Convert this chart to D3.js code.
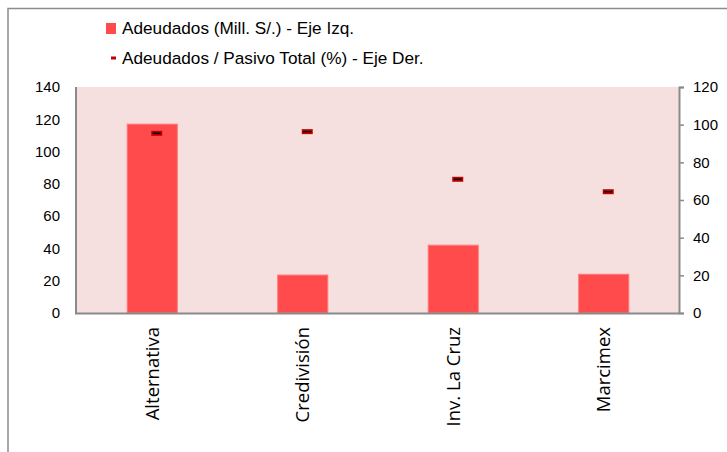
<!DOCTYPE html>
<html><head><meta charset="utf-8">
<script src="https://cdn.jsdelivr.net/npm/d3@7"></script>
<style>body{margin:0;background:#fff}svg{display:block}</style>
</head><body>
<script>
const categories = ["Alternativa", "Credivisión", "Inv. La Cruz", "Marcimex"];
const adeudados = [117, 23.5, 42, 24];
const ratioPasivo = [95.4, 96.3, 71, 64.4];
const leftTicks = [0, 20, 40, 60, 80, 100, 120, 140];
const rightTicks = [0, 20, 40, 60, 80, 100, 120];
const legendLabels = ["Adeudados (Mill. S/.) - Eje Izq.", "Adeudados / Pasivo Total (%) - Eje Der."];

const W = 727, H = 452;
const plot = {x0: 77, x1: 679, y0: 87, y1: 313};
const svg = d3.select("body").append("svg").attr("width", W).attr("height", H);

// outer frame
svg.append("rect").attr("x", 8).attr("y", 8.5).attr("width", 800).attr("height", 600)
  .attr("fill", "none").attr("stroke", "#8c8c8c").attr("stroke-width", 1.5);

const x = d3.scaleBand().domain(categories).range([plot.x0, plot.x1]).paddingInner(0.667).paddingOuter(0.3335);
const yL = d3.scaleLinear().domain([0, 140]).range([plot.y1, plot.y0]);
const yR = d3.scaleLinear().domain([0, 120]).range([plot.y1, plot.y0]);

// plot area background
svg.append("rect").attr("x", plot.x0).attr("y", plot.y0).attr("width", plot.x1 - plot.x0)
  .attr("height", plot.y1 - plot.y0).attr("fill", "#f5e0df");
// left / bottom gray edges
svg.append("line").attr("x1", plot.x0 - 1).attr("x2", plot.x0 - 1).attr("y1", plot.y0).attr("y2", plot.y1 + 1)
  .attr("stroke", "#8a8a8a").attr("stroke-width", 2);

// bars
svg.append("g").selectAll("rect").data(categories).join("rect")
  .attr("x", d => x(d)).attr("width", x.bandwidth())
  .attr("y", (d, i) => yL(adeudados[i])).attr("height", (d, i) => plot.y1 - yL(adeudados[i]))
  .attr("fill", "#ff4b4b").attr("stroke", "#ff7a7a").attr("stroke-width", 1);

svg.append("line").attr("x1", plot.x0 - 2).attr("x2", plot.x1).attr("y1", plot.y1 + 0.5).attr("y2", plot.y1 + 0.5)
  .attr("stroke", "#8a8a8a").attr("stroke-width", 2);

// left axis
const gL = svg.append("g").attr("transform", `translate(${plot.x0},0)`)
  .call(d3.axisLeft(yL).tickValues(leftTicks).tickSize(0).tickPadding(17));
gL.select(".domain").remove();
gL.selectAll("text").attr("font-family", "Liberation Sans, Arial, sans-serif").attr("font-size", 15).attr("fill", "#000");

// right axis
const gR = svg.append("g").attr("transform", `translate(${plot.x1},0)`)
  .call(d3.axisRight(yR).tickValues(rightTicks).tickSize(5).tickPadding(9));
gR.select(".domain").attr("stroke", "#8a8a8a").attr("stroke-width", 2);
gR.selectAll(".tick line").attr("stroke", "#8a8a8a").attr("stroke-width", 1.5);
gR.selectAll("text").attr("font-family", "Liberation Sans, Arial, sans-serif").attr("font-size", 15).attr("fill", "#000");

// category labels
const gX = svg.append("g").attr("transform", `translate(0,${plot.y1})`)
  .call(d3.axisBottom(x).tickSize(0).tickPadding(0));
gX.select(".domain").remove();
gX.selectAll("text").attr("font-family", "Open Sans, sans-serif").attr("font-size", 18.5).attr("fill", "#000")
  .attr("text-anchor", "end").attr("dy", "0.35em")
  .attr("transform", "translate(0,14) rotate(-90)").attr("x", 0).attr("y", 0);

// markers
const mk = svg.append("g").selectAll("g").data(categories).join("g")
  .attr("transform", (d, i) => `translate(${x(d) + x.bandwidth() / 2 + 4.5},${yR(ratioPasivo[i])})`);
mk.append("rect").attr("x", -5.5).attr("y", -2.5).attr("width", 11).attr("height", 5).attr("fill", "#c00000");
mk.append("line").attr("x1", -4).attr("x2", 4).attr("y1", 0).attr("y2", 0).attr("stroke", "#000").attr("stroke-width", 1.5);

// legend
const lg = svg.append("g");
lg.append("rect").attr("x", 106).attr("y", 23).attr("width", 10).attr("height", 11).attr("fill", "#ff4b4b");
lg.append("rect").attr("x", 111).attr("y", 56.5).attr("width", 5).attr("height", 3).attr("fill", "#c00000");
lg.selectAll("text").data(legendLabels).join("text")
  .attr("x", 122).attr("y", (d, i) => 34 + i * 29.5)
  .attr("font-family", "Liberation Sans Narrow, Liberation Sans, Arial, sans-serif").attr("font-size", 17.2)
  .attr("fill", "#000").text(d => d);
</script>
</body></html>
